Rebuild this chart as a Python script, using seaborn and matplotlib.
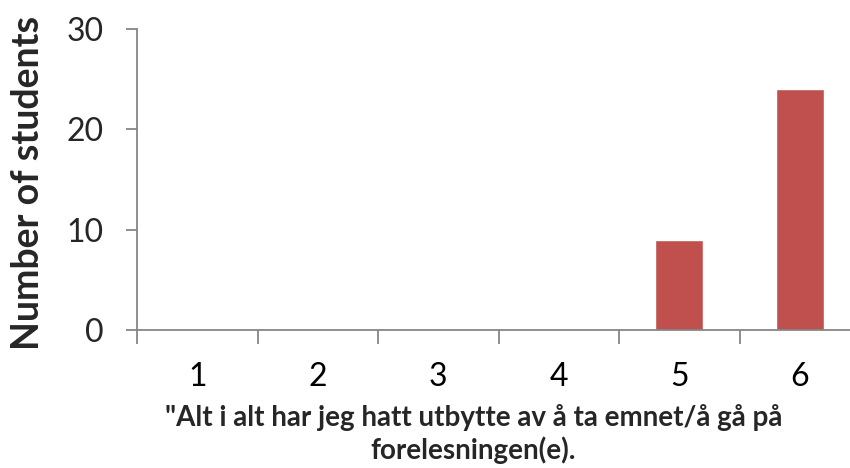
import pandas as pd
import matplotlib.pyplot as plt
import seaborn as sns

# Datos
categorias = ['1', '2', '3', '4', '5', '6']
estudiantes = [0, 0, 0, 0, 9, 24]

data = pd.DataFrame({'score': categorias, 'count': estudiantes})

sns.set_style('white')
plt.rcParams['font.family'] = ['Lato', 'DejaVu Sans']

fig = plt.figure(figsize=(8.5, 4.68), dpi=100)
ax = fig.add_axes([137 / 850, 1 - 330 / 468, 723 / 850, 301 / 468])

sns.barplot(data=data, x='score', y='count', color='#C0504D', saturation=1,
            width=0.4, ax=ax)

ax.set_ylim(0, 30)
ax.set_xlim(-0.5, 5.5)
ax.set_yticks([0, 10, 20, 30])

grey = '#868686'
for side in ['top', 'right']:
    ax.spines[side].set_visible(False)
for side in ['left', 'bottom']:
    ax.spines[side].set_color(grey)
    ax.spines[side].set_linewidth(1.3)

# marcas del eje x entre categorías
ax.set_xticks([i - 0.5 for i in range(7)], minor=True)
ax.tick_params(axis='x', which='major', length=0, labelsize=23, pad=23, colors='black')
ax.tick_params(axis='x', which='minor', length=10, width=1.3, color=grey, direction='out')
ax.tick_params(axis='y', which='major', length=8, width=1.3, color=grey, direction='out',
               labelsize=23, pad=16)
ax.tick_params(axis='x', bottom=True, which='minor')
ax.tick_params(axis='y', left=True)

ax.set_ylabel('Number of students', fontsize=27, fontweight='bold')
ax.yaxis.set_label_coords(-0.151, 0.49)
ax.yaxis.label.set_va('center')

ax.set_xlabel('"Alt i alt har jeg hatt utbytte av å ta emnet/å gå på\nforelesningen(e).',
              fontsize=20, fontweight='bold', linespacing=1.25)
ax.xaxis.set_label_coords(0.465, -0.245)
ax.xaxis.label.set_va('top')

fig.savefig('out.png', dpi=100)
